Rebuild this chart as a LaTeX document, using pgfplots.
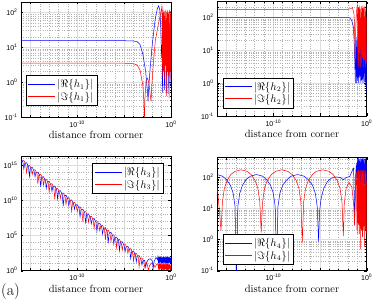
\documentclass[border=0pt]{standalone}
\usepackage{fontspec}
\usepackage{pgfplots}
\pgfplotsset{compat=1.18}
\newfontfamily\tickfamily{Liberation Sans}
\begin{document}
\begin{tikzpicture}
\path[use as bounding box] (0,0) rectangle (374pt,305pt);
% ---------------- top left ----------------
\begin{axis}[scale only axis, xmode=log, ymode=log, xmin=1e-16, xmax=1,
    xtick={1e-15,1e-10,1e-5,1},
    xticklabels={,{10\textsuperscript{-10}},,{10\textsuperscript{0}}},
    minor xtick={1e-16,1e-14,1e-13,1e-12,1e-11,1e-9,1e-8,1e-7,1e-6,1e-4,1e-3,1e-2,1e-1},
    grid=both,
    major grid style={black!13, line width=0.6pt},
    minor grid style={black!30, dotted, line width=0.4pt},
    tick align=inside, major tick length=2.5pt, minor tick length=1.4pt,
    tick style={black, line width=0.4pt},
    tick label style={font=\tickfamily\fontsize{7}{8}\selectfont},
    xlabel={distance from corner},
    xlabel style={font=\fontsize{10.5}{12}\selectfont, yshift=3pt},
    axis line style={line width=0.5pt},
    legend style={draw=black, line width=0.7pt, fill=white, inner sep=2pt,
      font=\fontsize{10.5}{12}\selectfont, row sep=-1.5pt},
    legend cell align=left,
    ytick={0.1,1,10,100},
    yticklabels={{10\textsuperscript{-1}},{10\textsuperscript{0}},{10\textsuperscript{1}},{10\textsuperscript{2}}},
    minor ytick={0.2,0.3,0.4,0.5,0.6,0.7,0.8,0.9,2,3,4,5,6,7,8,9,20,30,40,50,60,70,80,90,200},
  at={(21pt,188pt)}, anchor=south west,
  width=150pt, height=115pt, ymin=0.1, ymax=200,
  legend style={at={(0.033,0.096)}, anchor=south west}]
\addplot[draw=blue, line width=0.5pt, legend image code/.code={\node[inner sep=0pt, anchor=west] at (0cm,0cm) {\textcolor{blue}{\rule[-0.3pt]{0.95cm}{0.6pt}}};}] coordinates {
(1e-16,15.5) (1e-5,15.5) (1e-4,15.2) (2.51e-4,14.5) (5.01e-4,12) (1e-3,6.3) (2e-3,2)
(3.16e-3,0.5) (3.55e-3,0.28) (4e-3,0.6) (6.31e-3,3) (1e-2,12) (2e-2,60) (3.5e-2,130)
(4.8e-2,155) (6.31e-2,120) (8e-2,40) (0.1,5) (0.112,12) (0.126,0.5) (0.141,8) (0.158,3)
(0.178,40) (0.2,0.6) (0.224,10) (0.251,4) (0.282,60) (0.316,0.5) (0.355,9) (0.398,3)
(0.447,30) (0.501,0.45) (0.562,10) (0.631,2) (0.708,50) (0.794,0.8) (0.891,10) (1,3)};
\addplot[draw=red, line width=0.5pt, legend image code/.code={\node[inner sep=0pt, anchor=west] at (0cm,0cm) {\textcolor{red}{\rule[-0.3pt]{0.95cm}{0.6pt}}};}] coordinates {
(1e-16,3.5) (1e-5,3.5) (1e-4,3.4) (2.51e-4,3.1) (5.01e-4,2.2) (1e-3,0.8) (1.26e-3,0.3)
(1.45e-3,0.08) (1.7e-3,0.4) (2.2e-3,1.1) (3.2e-3,1.3) (4.5e-3,0.9) (6.3e-3,0.4)
(7.4e-3,0.28) (8.5e-3,0.6) (1.26e-2,3) (2.1e-2,15) (4e-2,40) (7e-2,80) (0.1,130)
(0.112,155) (0.126,1.5) (0.141,120) (0.158,2) (0.178,100) (0.2,1.2) (0.224,110)
(0.251,3) (0.282,120) (0.316,0.4) (0.355,100) (0.398,2) (0.447,115) (0.501,1.5)
(0.562,100) (0.631,0.35) (0.708,120) (0.794,2) (0.891,110) (1,1.2)};
\legend{$|\Re\{h_1\}|$,$|\Im\{h_1\}|$}
\end{axis}
% ---------------- top right ----------------
\begin{axis}[scale only axis, xmode=log, ymode=log, xmin=1e-16, xmax=1,
    xtick={1e-15,1e-10,1e-5,1},
    xticklabels={,{10\textsuperscript{-10}},,{10\textsuperscript{0}}},
    minor xtick={1e-16,1e-14,1e-13,1e-12,1e-11,1e-9,1e-8,1e-7,1e-6,1e-4,1e-3,1e-2,1e-1},
    grid=both,
    major grid style={black!13, line width=0.6pt},
    minor grid style={black!30, dotted, line width=0.4pt},
    tick align=inside, major tick length=2.5pt, minor tick length=1.4pt,
    tick style={black, line width=0.4pt},
    tick label style={font=\tickfamily\fontsize{7}{8}\selectfont},
    xlabel={distance from corner},
    xlabel style={font=\fontsize{10.5}{12}\selectfont, yshift=3pt},
    axis line style={line width=0.5pt},
    legend style={draw=black, line width=0.7pt, fill=white, inner sep=2pt,
      font=\fontsize{10.5}{12}\selectfont, row sep=-1.5pt},
    legend cell align=left,
    ytick={0.1,1,10,100},
    yticklabels={{10\textsuperscript{-1}},{10\textsuperscript{0}},{10\textsuperscript{1}},{10\textsuperscript{2}}},
    minor ytick={0.2,0.3,0.4,0.5,0.6,0.7,0.8,0.9,2,3,4,5,6,7,8,9,20,30,40,50,60,70,80,90,200,300},
  at={(217.3pt,189pt)}, anchor=south west,
  width=149.4pt, height=114.3pt, ymin=0.1, ymax=300,
  legend style={at={(0.036,0.067)}, anchor=south west}]
\addplot[draw=blue, line width=0.5pt, legend image code/.code={\node[inner sep=0pt, anchor=west] at (0cm,0cm) {\textcolor{blue}{\rule[-0.3pt]{0.95cm}{0.6pt}}};}] coordinates {
(1e-16,100) (1e-2,100) (1.7e-2,95) (2.5e-2,80) (3.8e-2,50) (5e-2,10) (6e-2,1.0)
(7e-2,20) (0.0794,1.0) (0.0891,25) (0.1,1.2) (0.112,20) (0.126,1) (0.141,30)
(0.158,1.5) (0.178,20) (0.2,1) (0.224,25) (0.251,1.2) (0.282,20) (0.316,1) (0.355,30)
(0.398,1.3) (0.447,20) (0.501,1) (0.562,25) (0.631,1.1) (0.708,20) (0.794,0.8)
(0.891,15) (1,0.5)};
\addplot[draw=red, line width=0.5pt, legend image code/.code={\node[inner sep=0pt, anchor=west] at (0cm,0cm) {\textcolor{red}{\rule[-0.3pt]{0.95cm}{0.6pt}}};}] coordinates {
(1e-16,175) (1e-2,175) (2e-2,185) (3e-2,200) (4.5e-2,120) (5.3e-2,20) (5.75e-2,4.3)
(6.3e-2,30) (8e-2,150) (0.1,250) (0.112,5) (0.126,200) (0.141,3) (0.158,230) (0.178,8)
(0.2,180) (0.224,3) (0.251,220) (0.282,4) (0.316,190) (0.355,6) (0.398,230) (0.447,3)
(0.501,200) (0.562,5) (0.631,220) (0.708,3) (0.794,180) (0.891,4) (1,100)};
\legend{$|\Re\{h_2\}|$,$|\Im\{h_2\}|$}
\end{axis}
% ---------------- bottom left ----------------
\begin{axis}[scale only axis, xmode=log, ymode=log, xmin=1e-16, xmax=1,
    xtick={1e-15,1e-10,1e-5,1},
    xticklabels={,{10\textsuperscript{-10}},,{10\textsuperscript{0}}},
    minor xtick={1e-16,1e-14,1e-13,1e-12,1e-11,1e-9,1e-8,1e-7,1e-6,1e-4,1e-3,1e-2,1e-1},
    grid=both,
    major grid style={black!13, line width=0.6pt},
    minor grid style={black!30, dotted, line width=0.4pt},
    tick align=inside, major tick length=2.5pt, minor tick length=1.4pt,
    tick style={black, line width=0.4pt},
    tick label style={font=\tickfamily\fontsize{7}{8}\selectfont},
    xlabel={distance from corner},
    xlabel style={font=\fontsize{10.5}{12}\selectfont, yshift=3pt},
    axis line style={line width=0.5pt},
    legend style={draw=black, line width=0.7pt, fill=white, inner sep=2pt,
      font=\fontsize{10.5}{12}\selectfont, row sep=-1.5pt},
    legend cell align=left,
  at={(21pt,34.3pt)}, anchor=south west,
  width=150pt, height=114pt, ymin=1, ymax=1.6e16,
  ytick={1,1e5,1e10,1e15},
  yticklabels={{10\textsuperscript{0}},{10\textsuperscript{5}},{10\textsuperscript{10}},{10\textsuperscript{15}}},
  minor ytick={1e1,1e2,1e3,1e4,1e6,1e7,1e8,1e9,1e11,1e12,1e13,1e14,1e16},
  legend style={at={(0.953,0.942)}, anchor=north east}]
\addplot[draw=blue, line width=0.5pt, legend image code/.code={\node[inner sep=0pt, anchor=west] at (0cm,0cm) {\textcolor{blue}{\rule[-0.3pt]{0.95cm}{0.6pt}}};}] coordinates {
(1e-16,1e16) (1.58e-16,3.02e15) (2.00e-16,2.95e14) (2.51e-16,1.82e15) (3.98e-16,2.19e15)
(6.31e-16,6.61e14) (7.94e-16,2.57e13) (1e-15,3.98e14) (1.58e-15,4.79e14)
(2.51e-15,1.45e14) (3.16e-15,2.24e13) (3.98e-15,8.71e13) (6.31e-15,1.05e14)
(1e-14,3.16e13) (1.26e-14,7.76e11) (1.58e-14,1.91e13) (2.51e-14,2.29e13)
(3.98e-14,6.92e12) (5.01e-14,5.37e11) (6.31e-14,4.17e12) (1e-13,5.01e12)
(1.58e-13,1.51e12) (2.00e-13,1.86e11) (2.51e-13,9.12e11) (3.98e-13,1.10e12)
(6.31e-13,3.31e11) (7.94e-13,1.62e10) (1e-12,2.00e11) (1.58e-12,2.40e11)
(2.51e-12,7.24e10) (3.16e-12,1.41e9) (3.98e-12,4.37e10) (6.31e-12,5.25e10)
(1e-11,1.58e10) (1.26e-11,1.55e9) (1.58e-11,9.55e9) (2.51e-11,1.15e10)
(3.98e-11,3.47e9) (5.01e-11,5.37e8) (6.31e-11,2.09e9) (1e-10,2.51e9)
(1.58e-10,7.59e8) (2.00e-10,4.68e7) (2.51e-10,4.57e8) (3.98e-10,5.50e8)
(6.31e-10,1.66e8) (7.94e-10,5.13e6) (1e-9,1e8) (1.58e-9,1.20e8) (2.51e-9,3.63e7)
(3.16e-9,4.47e6) (3.98e-9,2.19e7) (6.31e-9,2.63e7) (1e-8,7.94e6) (1.26e-8,3.89e5)
(1.58e-8,4.79e6) (2.51e-8,5.75e6) (3.98e-8,1.74e6) (5.01e-8,1.70e5) (6.31e-8,1.05e6)
(1e-7,1.26e6) (1.58e-7,3.80e5) (2.00e-7,7.41e3) (2.51e-7,2.29e5) (3.98e-7,2.75e5)
(6.31e-7,8.32e4) (7.94e-7,6.46e3) (1e-6,5.01e4) (1.58e-6,6.03e4) (2.51e-6,1.82e4)
(3.16e-6,7.08e2) (3.98e-6,1.10e4) (6.31e-6,1.32e4) (1e-5,3.98e3) (1.26e-5,4.90e2)
(1.58e-5,2.40e3) (2.51e-5,2.88e3) (3.98e-5,8.71e2) (5.01e-5,5.37e1) (6.31e-5,5.25e2)
(1e-4,6.31e2) (1.58e-4,1.91e2) (2.00e-4,1.86e1) (2.51e-4,1.15e2) (3.98e-4,1.38e2)
(6.31e-4,4.17e1) (7.94e-4,6.46) (1e-3,2.51e1) (1.58e-3,3.02e1) (2.00e-3,3.16)
(2.51e-3,15.8) (3.98e-3,39.8) (6.31e-3,50.1) (1e-2,25.1) (1.26e-2,2.0) (1.58e-2,20)
(2.51e-2,79.4) (3.55e-2,39.8)
(0.0398,100) (0.0447,12) (0.0501,90) (0.0562,10) (0.0631,100) (0.0708,15) (0.0794,95)
(0.0891,8) (0.1,100) (0.112,12) (0.126,90) (0.141,10) (0.158,100) (0.178,14) (0.2,95)
(0.224,9) (0.251,100) (0.282,11) (0.316,90) (0.355,10) (0.398,100) (0.447,12)
(0.501,95) (0.562,10) (0.631,100) (0.708,12) (0.794,90) (0.891,10) (1,60)};
\addplot[draw=red, line width=0.5pt, legend image code/.code={\node[inner sep=0pt, anchor=west] at (0cm,0cm) {\textcolor{red}{\rule[-0.3pt]{0.95cm}{0.6pt}}};}] coordinates {
(1e-16,2.51e15) (2.00e-16,4.68e15) (3.16e-16,1.41e15) (3.98e-16,8.71e13)
(5.01e-16,8.51e14) (7.94e-16,1.02e15) (1.26e-15,3.09e14) (1.58e-15,4.79e13)
(2.00e-15,1.86e14) (3.16e-15,2.24e14) (5.01e-15,6.76e13) (6.31e-15,2.09e12)
(7.94e-15,4.07e13) (1.26e-14,4.90e13) (2.00e-14,1.48e13) (2.51e-14,1.45e12)
(3.16e-14,8.91e12) (5.01e-14,1.07e13) (7.94e-14,3.24e12) (1e-13,1.58e11)
(1.26e-13,1.95e12) (2.00e-13,2.34e12) (3.16e-13,7.08e11) (3.98e-13,1.38e10)
(5.01e-13,4.27e11) (7.94e-13,5.13e11) (1.26e-12,1.55e11) (1.58e-12,1.91e10)
(2.00e-12,9.33e10) (3.16e-12,1.12e11) (5.01e-12,3.39e10) (6.31e-12,2.63e9)
(7.94e-12,2.04e10) (1.26e-11,2.45e10) (2.00e-11,7.41e9) (2.51e-11,2.88e8)
(3.16e-11,4.47e9) (5.01e-11,5.37e9) (7.94e-11,1.62e9) (1e-10,2.51e8)
(1.26e-10,9.77e8) (2.00e-10,1.17e9) (3.16e-10,3.55e8) (3.98e-10,8.71e6)
(5.01e-10,2.14e8) (7.94e-10,2.57e8) (1.26e-9,7.76e7) (1.58e-9,7.59e6) (2.00e-9,4.68e7)
(3.16e-9,5.62e7) (5.01e-9,1.70e7) (6.31e-9,1.05e6) (7.94e-9,1.02e7) (1.26e-8,1.23e7)
(2.00e-8,3.72e6) (2.51e-8,4.57e5) (3.16e-8,2.24e6) (5.01e-8,2.69e6) (7.94e-8,8.13e5)
(1e-7,2.51e4) (1.26e-7,4.90e5) (2.00e-7,5.89e5) (3.16e-7,1.78e5) (3.98e-7,1.38e4)
(5.01e-7,1.07e5) (7.94e-7,1.29e5) (1.26e-6,3.89e4) (1.58e-6,1.91e3) (2.00e-6,2.34e4)
(3.16e-6,2.82e4) (5.01e-6,8.51e3) (6.31e-6,8.32e2) (7.94e-6,5.13e3) (1.26e-5,6.17e3)
(2.00e-5,1.86e3) (2.51e-5,2.88e2) (3.16e-5,1.12e3) (5.01e-5,1.35e3) (7.94e-5,4.07e2)
(1e-4,2.51e1) (1.26e-4,2.45e2) (2.00e-4,2.95e2) (3.16e-4,8.91e1) (3.98e-4,3.47)
(5.01e-4,5.37e1) (7.94e-4,6.46e1) (1.26e-3,1.95e1) (1.58e-3,3.02) (2.00e-3,1.17e1)
(2.51e-3,15.8) (3.16e-3,5.01) (3.98e-3,1.0) (5.01e-3,5.01) (7.94e-3,12.6)
(1.26e-2,10) (2.00e-2,3.16) (2.82e-2,7.94)
(0.0398,10) (0.0447,1.5) (0.0501,9) (0.0562,1.2) (0.0631,10) (0.0708,2) (0.0794,9)
(0.0891,1.3) (0.1,10) (0.112,1.5) (0.126,9) (0.141,1.2) (0.158,10) (0.178,1.4) (0.2,9)
(0.224,1.2) (0.251,10) (0.282,1.5) (0.316,9) (0.355,1.1) (0.398,10) (0.447,1.3)
(0.501,9) (0.562,1.2) (0.631,10) (0.708,1.5) (0.794,9) (0.891,1.2) (1,5)};
\legend{$|\Re\{h_3\}|$,$|\Im\{h_3\}|$}
\end{axis}
% ---------------- bottom right ----------------
\begin{axis}[scale only axis, xmode=log, ymode=log, xmin=1e-16, xmax=1,
    xtick={1e-15,1e-10,1e-5,1},
    xticklabels={,{10\textsuperscript{-10}},,{10\textsuperscript{0}}},
    minor xtick={1e-16,1e-14,1e-13,1e-12,1e-11,1e-9,1e-8,1e-7,1e-6,1e-4,1e-3,1e-2,1e-1},
    grid=both,
    major grid style={black!13, line width=0.6pt},
    minor grid style={black!30, dotted, line width=0.4pt},
    tick align=inside, major tick length=2.5pt, minor tick length=1.4pt,
    tick style={black, line width=0.4pt},
    tick label style={font=\tickfamily\fontsize{7}{8}\selectfont},
    xlabel={distance from corner},
    xlabel style={font=\fontsize{10.5}{12}\selectfont, yshift=3pt},
    axis line style={line width=0.5pt},
    legend style={draw=black, line width=0.7pt, fill=white, inner sep=2pt,
      font=\fontsize{10.5}{12}\selectfont, row sep=-1.5pt},
    legend cell align=left,
    ytick={0.1,1,10,100},
    yticklabels={{10\textsuperscript{-1}},{10\textsuperscript{0}},{10\textsuperscript{1}},{10\textsuperscript{2}}},
    minor ytick={0.2,0.3,0.4,0.5,0.6,0.7,0.8,0.9,2,3,4,5,6,7,8,9,20,30,40,50,60,70,80,90,200,300,400},
  at={(217.3pt,34.3pt)}, anchor=south west,
  width=149.4pt, height=113.4pt, ymin=0.1, ymax=450,
  legend style={at={(0.036,0.05)}, anchor=south west}]
\addplot[draw=blue, line width=0.5pt, legend image code/.code={\node[inner sep=0pt, anchor=west] at (0cm,0cm) {\textcolor{blue}{\rule[-0.3pt]{0.95cm}{0.6pt}}};}] coordinates {
(1e-16,125) (3.55e-16,111) (8.91e-16,88) (2.51e-15,57) (5.01e-15,31) (7.94e-15,11.75)
(1.12e-14,0.05) (1.58e-14,11.75) (2.51e-14,31) (5.01e-14,57) (1.26e-13,88)
(3.55e-13,111) (1.58e-12,125) (7.08e-12,111) (1.78e-11,88) (5.01e-11,57) (1e-10,31)
(1.58e-10,11.75) (2.24e-10,0.15) (3.16e-10,11.75) (5.01e-10,31) (1e-9,57)
(3.16e-9,88) (7.94e-9,111) (3.98e-8,125) (2e-7,111) (5.01e-7,88) (1.58e-6,57)
(3.16e-6,31) (5.01e-6,11.75) (7.08e-6,0.87) (8.91e-6,8) (1.26e-5,20) (2.51e-5,45)
(6.31e-5,75) (1.58e-4,95) (5.01e-4,105) (1.58e-3,100) (3.16e-3,85) (6.31e-3,100)
(1.58e-2,110) (3.16e-2,180) (3.98e-2,200) (5.01e-2,3) (6.31e-2,100) (0.0794,300)
(0.0891,60) (0.1,400) (0.112,50) (0.126,420) (0.141,70) (0.158,380) (0.178,40)
(0.2,420) (0.224,60) (0.251,400) (0.282,50) (0.316,420) (0.355,70) (0.398,400)
(0.447,50) (0.501,420) (0.562,60) (0.631,400) (0.708,50) (0.794,420) (0.891,60) (1,300)};
\addplot[draw=red, line width=0.5pt, legend image code/.code={\node[inner sep=0pt, anchor=west] at (0cm,0cm) {\textcolor{red}{\rule[-0.3pt]{0.95cm}{0.6pt}}};}] coordinates {
(1e-16,50) (2.51e-16,2.0) (3.55e-16,16.7) (5.62e-16,44) (1.12e-15,81) (2.82e-15,126)
(7.94e-15,159) (3.55e-14,178) (1.58e-13,159) (3.98e-13,126) (1.12e-12,81)
(2.24e-12,44) (3.55e-12,16.7) (5.01e-12,1.7) (7.08e-12,16.7) (1.12e-11,44)
(2.24e-11,81) (6.31e-11,126) (1.78e-10,159) (7.94e-10,178) (3.55e-9,159) (1e-8,126)
(2.82e-8,81) (5.62e-8,44) (8.91e-8,16.7) (1.26e-7,0.8) (1.78e-7,16.7) (2.82e-7,44)
(5.62e-7,81) (1.58e-6,126) (3.98e-6,159) (2e-5,178) (8.91e-5,159) (2.51e-4,126)
(7.08e-4,81) (1.41e-3,44) (2.24e-3,16.7) (3.16e-3,1.3) (3.98e-3,15) (6.31e-3,45)
(1.26e-2,70) (2.51e-2,50) (3.98e-2,15) (5.01e-2,3) (6.31e-2,40) (0.0794,150)
(0.0891,2) (0.1,170) (0.112,1.5) (0.126,180) (0.141,3) (0.158,160) (0.178,1.5)
(0.2,180) (0.224,0.5) (0.251,170) (0.282,2) (0.316,175) (0.355,1.2) (0.398,160)
(0.447,2) (0.501,180) (0.562,0.6) (0.631,170) (0.708,2) (0.794,160) (0.891,1.5) (1,80)};
\legend{$|\Re\{h_4\}|$,$|\Im\{h_4\}|$}
\end{axis}
\node[font=\fontsize{16}{18}\selectfont] at (10.5pt,13pt) {(a)};
\end{tikzpicture}
\end{document}
